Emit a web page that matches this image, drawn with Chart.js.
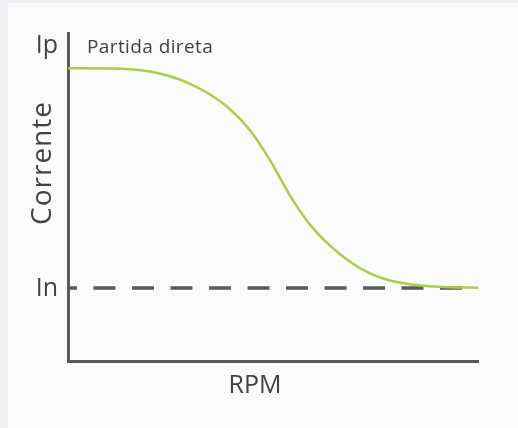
<!DOCTYPE html>
<html>
<head>
<meta charset="utf-8">
<script src="https://cdn.jsdelivr.net/npm/chart.js@4.4.0/dist/chart.umd.min.js"></script>
<style>
  html, body { margin: 0; padding: 0; }
  body { width: 518px; height: 428px; background: #eeeef3; position: relative; overflow: hidden; }
  #panel { position: absolute; left: 8px; top: 3px; right: 0; bottom: 0; background: #fbfbfc; }
  #wrap { position: absolute; left: 0; top: 0; width: 518px; height: 428px; }
</style>
</head>
<body>
<div id="panel"></div>
<div id="wrap"><canvas id="c" width="518" height="428"></canvas></div>
<script>
// RPM (% of axis length) and current (% of axis height)
const rpm =     [0,     10.24, 15.12, 20.0,  24.88, 29.76, 34.63, 39.51, 44.39, 49.27, 54.15, 59.02, 63.90, 68.78, 73.66, 78.54, 83.41, 88.29, 93.17, 100];
const current = [89.24, 89.18, 88.93, 88.23, 86.80, 84.51, 81.25, 76.77, 70.37, 61.22, 50.43, 41.58, 35.18, 30.24, 26.68, 24.54, 23.41, 22.80, 22.50, 22.32];
const nominalCurrent = 22.26;  // In level
const yLabels = ['Ip', 'In'];
const curveLabel = 'Partida direta';
const xTitle = 'RPM';
const yTitle = 'Corrente';

const curvePoints = rpm.map((x, i) => ({ x: x, y: current[i] }));
const nominalPoints = [{ x: rpm[0], y: nominalCurrent }, { x: rpm[rpm.length - 1], y: nominalCurrent }];

const textColor = '#424242';
const axisColor = '#595959';
const fontFamily = '"Open Sans", "DejaVu Sans", sans-serif';

const labelsPlugin = {
  id: 'labels',
  afterDraw(chart) {
    const ctx = chart.ctx;
    const a = chart.chartArea;
    const ys = chart.scales.y;
    ctx.save();
    ctx.fillStyle = textColor;
    // Ip label near top of axis
    ctx.font = '25px ' + fontFamily;
    ctx.textAlign = 'right';
    ctx.textBaseline = 'alphabetic';
    ctx.fillText(yLabels[0], a.left - 10, a.top + 20);
    // In label at nominal level
    ctx.textBaseline = 'middle';
    ctx.fillText(yLabels[1], a.left - 10, ys.getPixelForValue(nominalCurrent) + 1);
    // curve label
    ctx.font = '19px ' + fontFamily;
    ctx.letterSpacing = '0.4px';
    ctx.textAlign = 'left';
    ctx.textBaseline = 'alphabetic';
    ctx.fillText(curveLabel, a.left + 19, a.top + 20);
    ctx.letterSpacing = '0px';
    // x title
    ctx.font = '25px ' + fontFamily;
    ctx.textAlign = 'center';
    ctx.fillText(xTitle, a.left + 187, a.bottom + 32);
    // y title
    ctx.translate(a.left - 25, a.top + 130);
    ctx.rotate(-Math.PI / 2);
    ctx.textBaseline = 'middle';
    ctx.font = '28px ' + fontFamily;
    ctx.letterSpacing = '1px';
    ctx.fillText(yTitle, 0, 0);
    ctx.restore();
  }
};

new Chart(document.getElementById('c'), {
  type: 'line',
  data: {
    datasets: [
      {
        data: nominalPoints,
        borderColor: '#5a5a5a',
        borderWidth: 3.5,
        borderDash: [22, 16.5],
        borderDashOffset: 13,
        pointRadius: 0,
        fill: false,
        order: 2
      },
      {
        data: curvePoints,
        borderColor: '#abcd4c',
        borderWidth: 2.5,
        cubicInterpolationMode: 'monotone',
        pointRadius: 0,
        fill: false,
        order: 1
      }
    ]
  },
  options: {
    responsive: false,
    animation: false,
    layout: { padding: { left: 68, right: 40, top: 33, bottom: 67 } },
    plugins: { legend: { display: false }, tooltip: { enabled: false } },
    scales: {
      x: {
        type: 'linear', min: 0, max: 100,
        grid: { display: false, drawTicks: false },
        ticks: { display: false },
        border: { display: true, color: axisColor, width: 3 }
      },
      y: {
        type: 'linear', min: 0, max: 100,
        grid: { display: false, drawTicks: false },
        ticks: { display: false },
        border: { display: true, color: axisColor, width: 3 }
      }
    }
  },
  plugins: [labelsPlugin]
});
</script>
</body>
</html>
